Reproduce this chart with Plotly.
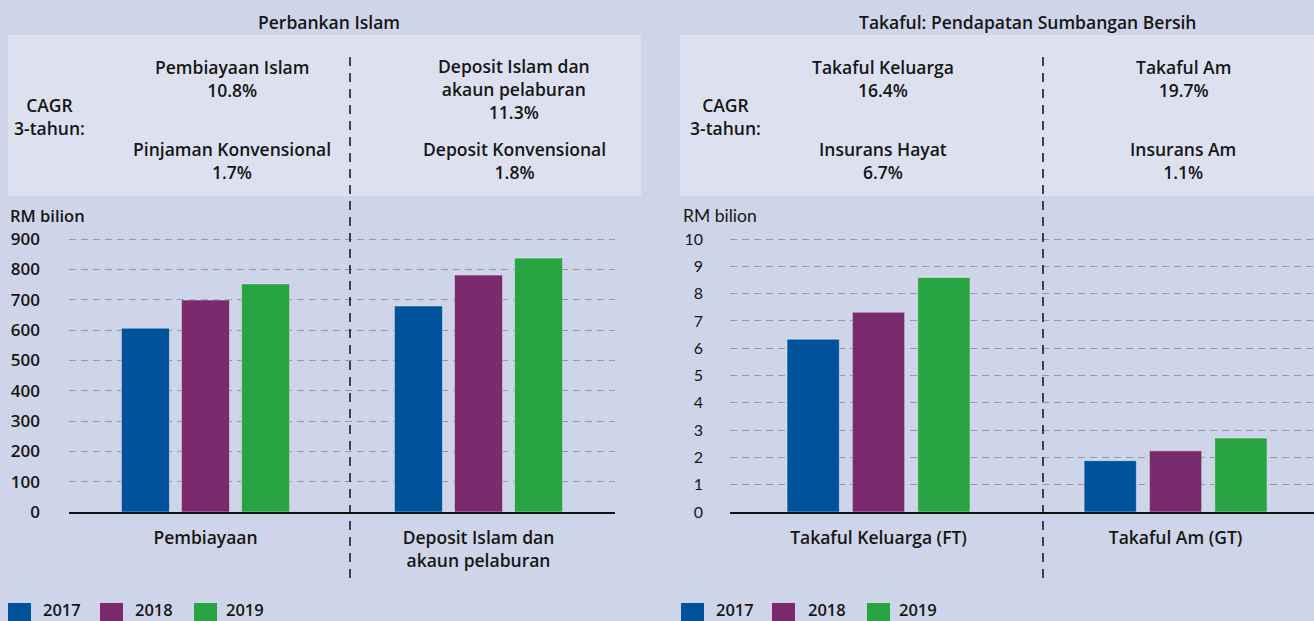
import plotly.graph_objects as go

W, H = 1314, 621

years = ["2017", "2018", "2019"]
colors = ["#00539b", "#7a2a6d", "#28a443"]

bank_categories = ["Pembiayaan", "Deposit Islam dan<br>akaun pelaburan"]
bank_2017 = [606, 679]
bank_2018 = [699, 781]
bank_2019 = [752, 837]

takaful_categories = ["Takaful Keluarga (FT)", "Takaful Am (GT)"]
takaful_2017 = [6.33, 1.88]
takaful_2018 = [7.32, 2.24]
takaful_2019 = [8.59, 2.71]

bank_ticks = list(range(0, 1000, 100))
takaful_ticks = list(range(0, 11))

bank_title = "Perbankan Islam"
takaful_title = "Takaful: Pendapatan Sumbangan Bersih"
cagr_label = "CAGR<br>3-tahun:"
bank_cagr = [("Pembiayaan Islam<br>10.8%", "Pinjaman Konvensional<br>1.7%"),
             ("Deposit Islam dan<br>akaun pelaburan<br>11.3%", "Deposit Konvensional<br>1.8%")]
takaful_cagr = [("Takaful Keluarga<br>16.4%", "Insurans Hayat<br>6.7%"),
                ("Takaful Am<br>19.7%", "Insurans Am<br>1.1%")]
unit = "RM bilion"

FONT = "Open Sans"
TXT = "#161616"
BG = "#cfd5e8"
BOX = "#dde1ef"
WB = 600


def px(x):
    return x / W


def py(y):
    return 1 - y / H


fig = go.Figure()
for yr, col, vals in zip(years, colors, [bank_2017, bank_2018, bank_2019]):
    fig.add_trace(go.Bar(x=bank_categories, y=vals, name=yr, marker_color=col,
                         xaxis="x", yaxis="y", showlegend=False))
for yr, col, vals in zip(years, colors, [takaful_2017, takaful_2018, takaful_2019]):
    fig.add_trace(go.Bar(x=takaful_categories, y=vals, name=yr, marker_color=col,
                         xaxis="x2", yaxis="y2", showlegend=False))

# plot area spans y=512 (zero) to y=237 so the top gridline stays inside the range
ydom = [py(512), py(237)]
grid = dict(showgrid=True, gridcolor="#9a9a9a", griddash="7px,5px", gridwidth=1,
            zeroline=False, showline=False, ticks="", automargin=False)

fig.update_layout(
    width=W, height=H, autosize=False,
    margin=dict(l=0, r=0, t=0, b=0, pad=0),
    paper_bgcolor=BG, plot_bgcolor="rgba(0,0,0,0)",
    bargap=0.34, bargroupgap=0.2, barmode="group", showlegend=False,
    font=dict(family=FONT, color=TXT),
    xaxis=dict(domain=[px(69), px(615)], type="category", range=[-0.5, 1.5],
               showline=True, linecolor="#111", linewidth=1.5, showgrid=False,
               ticks="", ticklabelstandoff=9, automargin=False,
               tickfont=dict(family=FONT, size=17.5, color=TXT, weight=WB)),
    yaxis=dict(domain=ydom, range=[0, 906.6], tickvals=bank_ticks, anchor="x",
               ticklabelstandoff=28,
               tickfont=dict(family=FONT, size=17, color=TXT, weight=WB), **grid),
    xaxis2=dict(domain=[px(730), 1], type="category", range=[-0.5, 1.466],
                anchor="y2", automargin=False,
                showline=True, linecolor="#111", linewidth=1.5, showgrid=False,
                ticks="", ticklabelstandoff=9,
                tickfont=dict(family=FONT, size=17.5, color=TXT, weight=WB)),
    yaxis2=dict(domain=ydom, range=[0, 10.074], tickvals=takaful_ticks, anchor="x2",
                ticklabelstandoff=26,
                tickfont=dict(family="Lato", size=16, color=TXT), **grid),
)

shapes = []
shapes.append(dict(type="rect", xref="paper", yref="paper", x0=px(8), x1=px(641),
                   y0=py(196), y1=py(35), fillcolor=BOX, line_width=0, layer="below"))
shapes.append(dict(type="rect", xref="paper", yref="paper", x0=px(680), x1=1,
                   y0=py(196), y1=py(35), fillcolor=BOX, line_width=0, layer="below"))
for sx in (350, 1043):
    shapes.append(dict(type="line", xref="paper", yref="paper", x0=px(sx), x1=px(sx),
                       y0=py(578), y1=py(57),
                       line=dict(color="#111", width=1.5, dash="9px,7px"),
                       layer="above"))

ann = []


def text(x, y, t, size=17.5, weight=WB, family=FONT, xanchor="center"):
    ann.append(dict(xref="paper", yref="paper", x=px(x), y=py(y), text=t, showarrow=False,
                    xanchor=xanchor, yanchor="middle", align="center",
                    font=dict(family=family, size=size, color=TXT, weight=weight)))


text(329, 22, bank_title)
text(1027, 22, takaful_title)
text(49, 117, cagr_label)
text(725, 117, cagr_label)
text(232, 78, bank_cagr[0][0])
text(232, 160, bank_cagr[0][1])
text(514, 89, bank_cagr[1][0])
text(514, 160, bank_cagr[1][1])
text(883, 78, takaful_cagr[0][0])
text(883, 160, takaful_cagr[0][1])
text(1183, 78, takaful_cagr[1][0])
text(1183, 160, takaful_cagr[1][1])
text(8, 215, unit, size=16.5, xanchor="left")
text(681, 215, unit, weight="normal", family="Lato", size=17.5, xanchor="left")

for sq_x, tx_x in (([8, 100, 194], [41, 133, 224]),
                   ([681, 772, 867], [714, 806, 897])):
    for yr, col, sx, tx in zip(years, colors, sq_x, tx_x):
        shapes.append(dict(type="rect", xref="paper", yref="paper", x0=px(sx), x1=px(sx + 23),
                           y0=py(623), y1=py(603), fillcolor=col, line_width=0))
        text(tx, 609, yr, xanchor="left", size=16.5)

fig.update_layout(shapes=shapes, annotations=ann)
fig.write_html("out.html", config={"displayModeBar": False},
               post_script="document.body.style.margin='0px';document.body.style.overflow='hidden';")
